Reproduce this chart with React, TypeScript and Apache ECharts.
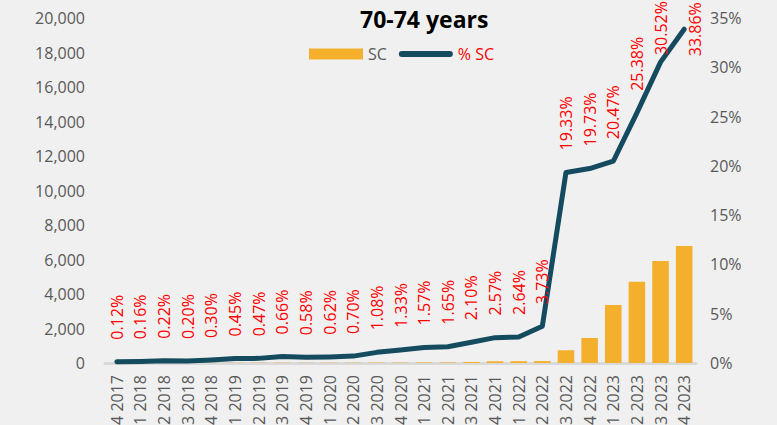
import React, { useEffect, useRef } from "react";
import * as echarts from "echarts";

const categories = [
  "Q4 2017", "Q1 2018", "Q2 2018", "Q3 2018", "Q4 2018",
  "Q1 2019", "Q2 2019", "Q3 2019", "Q4 2019",
  "Q1 2020", "Q2 2020", "Q3 2020", "Q4 2020",
  "Q1 2021", "Q2 2021", "Q3 2021", "Q4 2021",
  "Q1 2022", "Q2 2022", "Q3 2022", "Q4 2022",
  "Q1 2023", "Q2 2023", "Q3 2023", "Q4 2023",
];

const scValues = [
  5, 6, 8, 7, 10,
  12, 13, 18, 16,
  17, 19, 22, 25,
  30, 32, 60, 100,
  105, 110, 740, 1450,
  3360, 4710, 5910, 6780,
];

const pctValues = [
  0.12, 0.16, 0.22, 0.2, 0.3,
  0.45, 0.47, 0.66, 0.58,
  0.62, 0.7, 1.08, 1.33,
  1.57, 1.65, 2.1, 2.57,
  2.64, 3.73, 19.33, 19.73,
  20.47, 25.38, 30.52, 33.86,
];

const leftTicks = { min: 0, max: 20000, interval: 2000 };
const rightTicks = { min: 0, max: 35, interval: 5 };

const FONT = "Open Sans";

export default function App() {
  const ref = useRef<HTMLDivElement>(null);

  useEffect(() => {
    document.body.style.margin = "0";
    const chart = echarts.init(ref.current!, undefined, { renderer: "svg" });
    const n = pctValues.length;
    const lineData = pctValues.map((v, i) => {
      if (i === n - 1) {
        return { value: v, label: { position: "right", distance: 11, align: "center", verticalAlign: "middle" } };
      }
      if (i === n - 2) {
        return { value: v, label: { distance: 7 } };
      }
      return v;
    });
    chart.setOption({
      animation: false,
      backgroundColor: "#F0F0F0",
      textStyle: { fontFamily: FONT },
      title: {
        text: "70-74 years",
        left: 355,
        top: 2,
        textStyle: { fontSize: 23, fontWeight: "bold", color: "#000", fontFamily: FONT },
      },
      legend: {
        left: 304,
        top: 41,
        itemWidth: 54,
        itemHeight: 11,
        itemGap: 12,
        textStyle: { fontSize: 16, fontFamily: FONT },
        data: [
          { name: "SC", icon: "rect", textStyle: { color: "#595959" } },
          {
            name: "% SC",
            icon: "path://M3,0 L53,0 A3,3 0 0 1 53,6 L3,6 A3,3 0 0 1 3,0 Z",
            itemStyle: { color: "#144B5F" },
            textStyle: { color: "#FF0000" },
          },
        ],
      },
      grid: { left: 105, right: 81, top: 18, bottom: 62, containLabel: false, outerBoundsMode: "none" },
      xAxis: {
        type: "category",
        data: categories,
        axisLine: { lineStyle: { color: "#D9D9D9", width: 3 } },
        axisTick: { show: false },
        axisLabel: { rotate: 90, fontSize: 16, color: "#595959", margin: 12, interval: 0, fontFamily: FONT },
      },
      yAxis: [
        {
          type: "value",
          ...leftTicks,
          splitLine: { show: false },
          axisLine: { show: false },
          axisTick: { show: false },
          axisLabel: {
            fontSize: 16,
            color: "#595959",
            margin: 20,
            fontFamily: FONT,
            formatter: (v: number) => v.toLocaleString("en-US"),
          },
        },
        {
          type: "value",
          ...rightTicks,
          splitLine: { show: false },
          axisLine: { show: false },
          axisTick: { show: false },
          axisLabel: {
            fontSize: 16,
            color: "#595959",
            margin: 14,
            fontFamily: FONT,
            formatter: (v: number) => v + "%",
          },
        },
      ],
      series: [
        {
          name: "SC",
          type: "bar",
          data: scValues,
          barWidth: "70%",
          itemStyle: { color: "#F4AF2D" },
          yAxisIndex: 0,
          z: 2,
        },
        {
          name: "% SC",
          type: "line",
          data: lineData,
          yAxisIndex: 1,
          symbol: "circle",
          symbolSize: 0.1,
          showSymbol: true,
          lineStyle: { color: "#144B5F", width: 5, cap: "round", join: "round" },
          itemStyle: { color: "#144B5F" },
          z: 3,
          labelLayout: { hideOverlap: false },
          label: {
            show: true,
            position: "top",
            distance: 22,
            rotate: 90,
            align: "left",
            verticalAlign: "middle",
            color: "#FF0000",
            fontSize: 16,
            fontFamily: FONT,
            formatter: (p: any) => Number(p.value).toFixed(2) + "%",
          },
        },
      ],
    });
    return () => chart.dispose();
  }, []);

  return <div ref={ref} style={{ width: 777, height: 425 }} />;
}
